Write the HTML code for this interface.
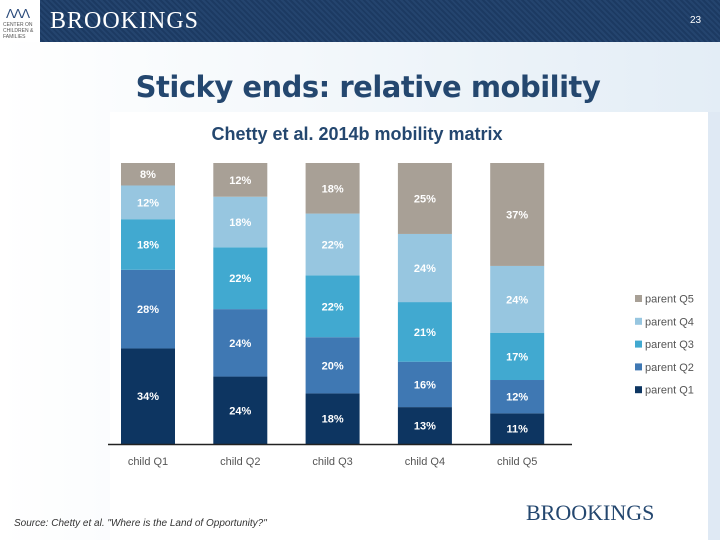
<!DOCTYPE html>
<html><head><meta charset="utf-8"><style>
body{margin:0;width:720px;height:540px;overflow:hidden;font-family:"Liberation Sans",sans-serif;position:relative;background:linear-gradient(90deg,#fff 0%,#f4f8fb 40%,#e3edf6 100%);}
#hdr{position:absolute;left:0;top:0;width:720px;height:42px;background:repeating-linear-gradient(45deg,#24446e 0 2px,#1c3a62 2px 4px);}
#logo{position:absolute;left:0;top:0;width:40px;height:42px;background:#fff;}
#panel{position:absolute;left:110px;top:112px;width:598px;height:428px;background:#fff;}
#strip{position:absolute;left:708px;top:112px;width:12px;height:428px;background:#dfe9f4;}
</style></head><body>
<div id="hdr">
<div id="logo">
<div style="position:absolute;left:6px;top:6px;font-size:13px;color:#2a4a7a;letter-spacing:-1px">ΛΛΛ</div>
<div style="position:absolute;left:3px;top:22px;font-size:5px;line-height:6px;color:#555">CENTER ON<br>CHILDREN &amp;<br>FAMILIES</div></div>
<div style="position:absolute;left:50px;top:8px;font-family:'Liberation Serif',serif;font-size:24px;color:#fff;letter-spacing:1px">BROOKINGS</div>
<div style="position:absolute;left:690px;top:15px;font-size:10px;color:#fff">23</div>
</div>
<div style="position:absolute;left:0;width:736px;text-align:center;top:70px;font-family:'DejaVu Sans',sans-serif;font-weight:bold;font-size:29px;color:#24476f;letter-spacing:-0.5px">Sticky ends: relative mobility</div>
<div id="panel"></div>
<div id="strip"></div>
<svg id="chart" width="720" height="540" style="position:absolute;left:0;top:0">
<text x="357" y="140" text-anchor="middle" font-size="18" font-weight="bold" fill="#24476f">Chetty et al. 2014b mobility matrix</text>
</svg>
<div style="position:absolute;left:14px;top:518px;font-size:10px;font-style:italic;color:#333">Source: Chetty et al. "Where is the Land of Opportunity?"</div>
<div style="position:absolute;left:526px;top:500px;font-family:'Liberation Serif',serif;font-size:22px;color:#24476f">BROOKINGS</div>
<script>
const categories=["child Q1","child Q2","child Q3","child Q4","child Q5"];
const seriesNames=["parent Q1","parent Q2","parent Q3","parent Q4","parent Q5"];
const q1=[34,24,18,13,11];
const q2=[28,24,20,16,12];
const q3=[18,22,22,21,17];
const q4=[12,18,22,24,24];
const q5=[8,12,18,25,37];
const series=[q1,q2,q3,q4,q5];
const colors=["#0d3561","#3f78b3","#41a9d0","#97c6e0","#a8a096"];
const svg=document.getElementById('chart');const NS="http://www.w3.org/2000/svg";
const top0=163,bot=444,x0=121,step=92.3,bw=54;
const xPos=i=>x0+i*step;
function mk(t,a){const e=document.createElementNS(NS,t);for(const k in a)e.setAttribute(k,a[k]);svg.appendChild(e);return e;}
categories.forEach((c,i)=>{
 let tot=0;series.forEach(s=>tot+=s[i]);
 const ys=v=>v/tot*(bot-top0);
 let y=bot;
 series.forEach((s,j)=>{
  const h=ys(s[i]);y-=h;
  const r=mk('rect',{x:xPos(i),y:y,width:bw,height:h,fill:colors[j]});
  
  
  const t=mk('text',{x:xPos(i)+bw/2,y:y+h/2+4,'text-anchor':'middle','font-size':11,'font-weight':'bold',fill:'#fff'});
  t.textContent=s[i]+'%';
  
  
 });
 const l=mk('text',{x:xPos(i)+bw/2,y:465,'text-anchor':'middle','font-size':11,fill:'#555'});
 l.textContent=c;
 
 
});
const ax=mk('line',{x1:108,x2:572,y1:bot+0.5,y2:bot+0.5,stroke:'#222','stroke-width':1.5});


for(let j=4;j>=0;j--){
 const ly=299+(4-j)*22.8;
 const r=mk('rect',{x:635,y:ly-4,width:7,height:7,fill:colors[j]});
 
 
 const t=mk('text',{x:645,y:ly+3.5,'font-size':11,fill:'#555'});
 t.textContent=seriesNames[j];
 
 
}
</script>
</body></html>
